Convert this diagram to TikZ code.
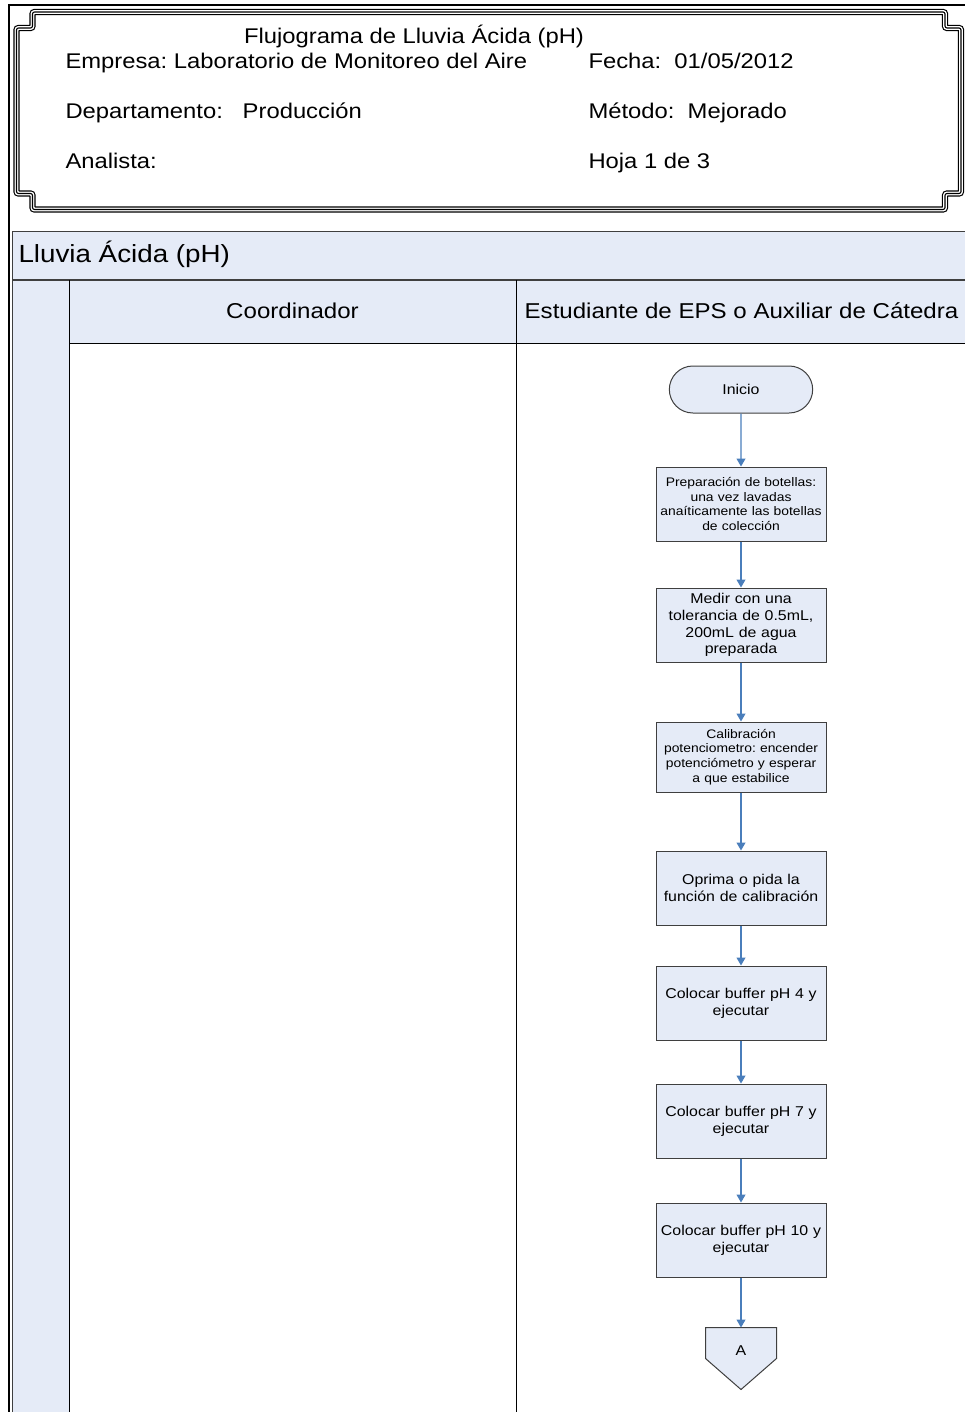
\documentclass[tikz,border=0pt]{standalone}
\usepackage{fontspec}
\setmainfont{Liberation Sans}[FakeStretch=1.12]
\frenchspacing
\usetikzlibrary{
arrows.meta,
positioning,
shapes.misc
}
\definecolor{lanefill}{HTML}{E5EBF7}
\definecolor{flowblue}{HTML}{4A7EBB}
\definecolor{edgegray}{HTML}{3F3F3F}
\tikzset{>={Triangle[width=9pt,length=8pt]}}
\tikzset{
	hdrframe/.style={line width=1.1pt, rounded corners=2pt, preaction={draw, line width=6.2pt}, preaction={draw=white, line width=3.9pt}},
	hdrtext/.style={inner sep=0pt, font=\fontsize{21.25}{25}\selectfont},
	pooltext/.style={inner sep=0pt, font=\fontsize{24.8}{28}\selectfont},
	lanetext/.style={inner sep=0pt, font=\fontsize{21.5}{25}\selectfont},
	steptext/.style={font=\fontsize{14.2}{16.7}\selectfont},
	smalltext/.style={font=\fontsize{12.4}{14.7}\selectfont},
	stepbox/.style={steptext, draw=edgegray, fill=lanefill, minimum width=170pt, minimum height=74pt, text width=166pt, inner sep=2pt, align=center},
	startbox/.style={steptext, rounded rectangle, draw=edgegray, fill=lanefill, minimum width=150pt, minimum height=47pt},
	conbox/.style={minimum width=70pt, minimum height=61pt, inner sep=0pt},
	flowarrow/.style={->, flowblue, line width=1.1pt}
}

\begin{document}
\begin{tikzpicture}[x=1pt, y=-1pt, line width=1pt]
		\clip (0,0) rectangle (965,1412);
		\draw[line width=2pt] (8.5,1420) -- (8.5,5.5) -- (975,5.5);

		% encabezado
		\draw[hdrframe] (16.5,28) -- (32.5,28) -- (32.5,12) -- (945,12) -- (945,28) -- (961,28) -- (961,193.5) -- (945,193.5) -- (945,209.5) -- (32.5,209.5) -- (32.5,193.5) -- (16.5,193.5) -- cycle;
		\node[hdrtext, anchor=base]      (titulo)   at (414,43.5)  {Flujograma de Lluvia Ácida (pH)};
		\node[hdrtext, anchor=base west] (empresa)  at (65,68.5)   {Empresa: Laboratorio de Monitoreo del Aire};
		\node[hdrtext, anchor=base west] (fecha)    at (588,68.5)  {Fecha:\ \ 01/05/2012};
		\node[hdrtext, anchor=base west] (depto)    at (65,118.5)  {Departamento:\ \ \ Producción};
		\node[hdrtext, anchor=base west] (metodo)   at (588,118.5) {Método:\ \ Mejorado};
		\node[hdrtext, anchor=base west] (analista) at (65,168.5)  {Analista:};
		\node[hdrtext, anchor=base west] (hoja)     at (588,168.5) {Hoja 1 de 3};

		% carriles
		\fill[lanefill] (12.5,232) rectangle (975,343);
		\fill[lanefill] (12.5,343) rectangle (69,1420);
		\draw[edgegray] (12.5,1420) -- (12.5,232) -- (975,232);
		\draw[edgegray, line width=1.8pt] (12.5,280) -- (975,280);
		\draw (69,280) -- (69,1420);
		\draw (69,343) -- (975,343);
		\draw (516,280) -- (516,1420);
		\node[pooltext, anchor=base west] (pool)  at (18,263)    {Lluvia Ácida (pH)};
		\node[lanetext, anchor=base]      (coord) at (292.5,319) {Coordinador};
		\node[lanetext, anchor=base]      (estud) at (741.5,319) {Estudiante de EPS o Auxiliar de Cátedra};

		% flujo
		\node[startbox] (inicio) at (741,389.5) {Inicio};
		\node[stepbox, smalltext, below=53pt of inicio]   (botellas)   {Preparación de botellas:\\una vez lavadas\\anaíticamente las botellas\\de colección};
		\node[stepbox, below=46pt of botellas]            (medir)      {Medir con una\\tolerancia de 0.5mL,\\200mL de agua\\preparada};
		\node[stepbox, smalltext, minimum height=70pt, below=59pt of medir] (calib) {Calibración\\potenciometro: encender\\potenciómetro y esperar\\a que estabilice};
		\node[stepbox, below=58pt of calib]               (funcion)    {Oprima o pida la\\función de calibración};
		\node[stepbox, below=40pt of funcion]             (buffcuatro) {Colocar buffer pH 4 y\\ejecutar};
		\node[stepbox, below=43pt of buffcuatro]          (buffsiete)  {Colocar buffer pH 7 y\\ejecutar};
		\node[stepbox, below=44pt of buffsiete]           (buffdiez)   {Colocar buffer pH 10 y\\ejecutar};
		\node[conbox, below=50pt of buffdiez]             (conA)       {};
		\draw[draw=edgegray, fill=lanefill] (conA.north west) -- (conA.north east) -- (conA.east) -- (conA.south) -- (conA.west) -- cycle;
		\node[steptext] (letraA) at ([yshift=7.5pt]conA.center) {A};

		\draw[flowarrow] (inicio) -- (botellas);
		\draw[flowarrow] (botellas) -- (medir);
		\draw[flowarrow] (medir) -- (calib);
		\draw[flowarrow] (calib) -- (funcion);
		\draw[flowarrow] (funcion) -- (buffcuatro);
		\draw[flowarrow] (buffcuatro) -- (buffsiete);
		\draw[flowarrow] (buffsiete) -- (buffdiez);
		\draw[flowarrow] (buffdiez) -- (conA);
	\end{tikzpicture}
\end{document}
